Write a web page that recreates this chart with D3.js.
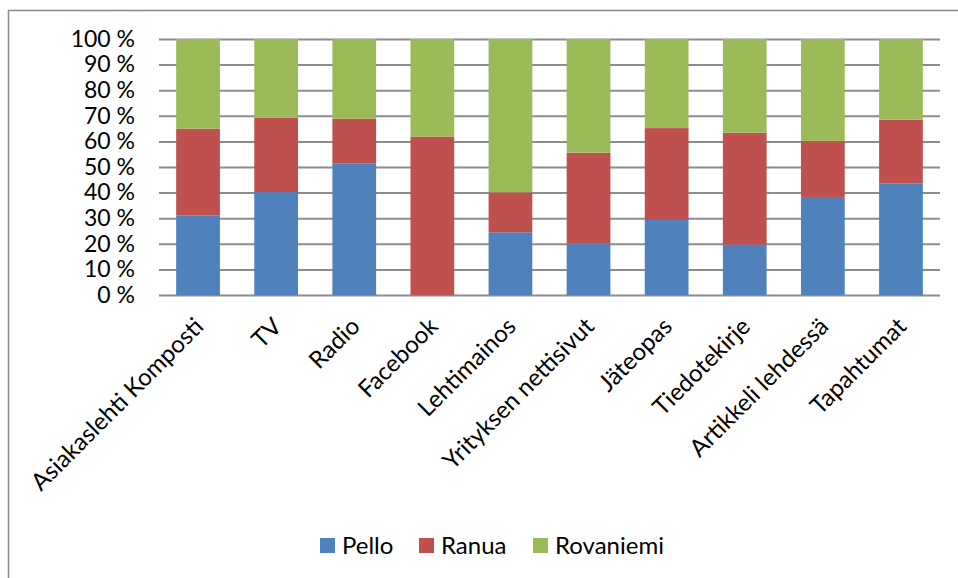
<!DOCTYPE html>
<html>
<head>
<meta charset="utf-8">
<script src="https://cdn.jsdelivr.net/npm/d3@7"></script>
<style>
  html, body { margin: 0; padding: 0; background: #fff; }
  svg { display: block; font-family: Lato, "Noto Sans", sans-serif; }
</style>
</head>
<body>
<svg id="chart" width="958" height="578"></svg>
<script>
// Media channels surveyed
const categories = [
  "Asiakaslehti Komposti", "TV", "Radio", "Facebook", "Lehtimainos",
  "Yrityksen nettisivut", "Jäteopas", "Tiedotekirje", "Artikkeli lehdessä", "Tapahtumat"
];
// Share of responses per municipality (%)
const pello     = [31.1, 40.2, 51.3, 0.0, 24.5, 20.2, 29.3, 19.7, 38.3, 43.6];
const ranua     = [33.9, 29.1, 17.6, 61.9, 15.6, 35.4, 35.9, 43.7, 21.9, 24.9];
const rovaniemi = [35.0, 30.7, 31.1, 38.1, 59.9, 44.4, 34.8, 36.6, 39.8, 31.5];
const seriesNames = ["Pello", "Ranua", "Rovaniemi"];
const seriesColors = ["#4F81BD", "#C0504D", "#9BBB59"];
const yTicks = [0, 0.1, 0.2, 0.3, 0.4, 0.5, 0.6, 0.7, 0.8, 0.9, 1.0];

const rows = categories.map((c, i) => ({
  category: c, Pello: pello[i], Ranua: ranua[i], Rovaniemi: rovaniemi[i]
}));

const svg = d3.select("#chart");
const plot = { left: 159, right: 940, top: 39, bottom: 295 };

// chart frame
svg.append("path")
  .attr("d", "M8.5,578 V10.5 H958")
  .attr("fill", "none").attr("stroke", "#8a8a8a").attr("stroke-width", 1.5);

const x = d3.scaleBand().domain(categories)
  .range([plot.left, plot.right]).paddingInner(0.44).paddingOuter(0.22);
const y = d3.scaleLinear().domain([0, 1]).range([plot.bottom, plot.top]);

const stack = d3.stack().keys(seriesNames).offset(d3.stackOffsetExpand);
const layers = stack(rows);

// gridlines and y labels
const yAxis = d3.axisLeft(y).tickValues(yTicks)
  .tickSize(-(plot.right - plot.left)).tickPadding(24)
  .tickFormat(d => Math.round(d * 100) + " %");
const gy = svg.append("g").attr("transform", `translate(${plot.left},0)`).call(yAxis);
gy.select(".domain").remove();
gy.selectAll(".tick line").attr("stroke", "#8c8c8c").attr("stroke-width", 2);
gy.selectAll(".tick text").attr("font-size", 23).attr("fill", "#000")
  .attr("font-family", "Lato, sans-serif");

// stacked bars
svg.append("g").selectAll("g").data(layers).join("g")
  .attr("fill", (d, i) => seriesColors[i])
  .selectAll("rect").data(d => d).join("rect")
  .attr("x", d => x(d.data.category))
  .attr("width", x.bandwidth())
  .attr("y", d => y(d[1]))
  .attr("height", d => y(d[0]) - y(d[1]));

// rotated category labels
const xAxis = d3.axisBottom(x).tickSize(0).tickPadding(0);
const gx = svg.append("g").attr("transform", `translate(0,${plot.bottom})`).call(xAxis);
gx.select(".domain").remove();
gx.selectAll(".tick text")
  .attr("font-size", 24).attr("fill", "#000").attr("font-family", "Lato, sans-serif")
  .attr("text-anchor", "end")
  .attr("transform", "translate(7,33) rotate(-45)")
  .attr("dy", 0).attr("y", 0);

// legend
const legendX = [320, 419, 533];
const lg = svg.append("g").selectAll("g").data(seriesNames).join("g")
  .attr("transform", (d, i) => `translate(${legendX[i]},538)`);
lg.append("rect").attr("width", 15).attr("height", 15)
  .attr("fill", (d, i) => seriesColors[i]);
lg.append("text").attr("x", 22).attr("y", 15.5)
  .attr("font-size", 24).attr("fill", "#000").text(d => d);
</script>
</body>
</html>
